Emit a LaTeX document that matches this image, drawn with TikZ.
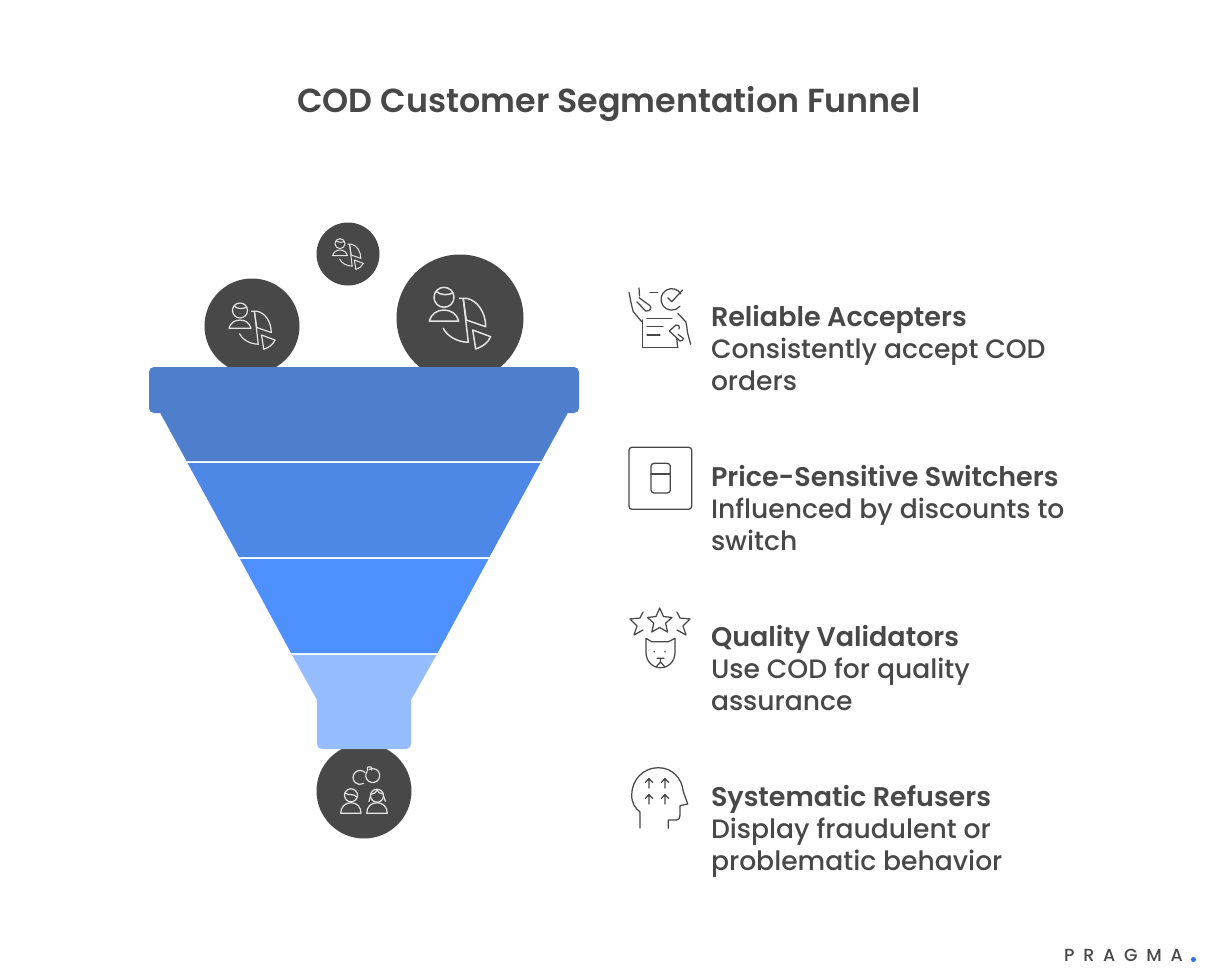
\documentclass[tikz,border=0pt]{standalone}
\usepackage{fontspec}
\setmainfont{Poppins Medium}[BoldFont={Poppins SemiBold}]
\newfontfamily\spaced[LetterSpace=50]{Poppins Medium}
\newcommand{\fpx}[1]{\fontsize{#1}{32}\selectfont}
\definecolor{ink}{HTML}{484848}
\definecolor{segA}{HTML}{4F7FCC}
\definecolor{segB}{HTML}{4D88E6}
\definecolor{segC}{HTML}{4D90FE}
\definecolor{segD}{HTML}{96BDFF}
\definecolor{dotblue}{HTML}{2F6FE0}
\definecolor{iconline}{HTML}{E4E4E4}
\tikzset{
  x=1pt,y=-1pt,
  ball/.style={fill=ink,draw=none},
  label text/.style={anchor=north west,inner sep=0pt,outer sep=0pt,align=left,text=ink,font=\fpx{26.6}},
  thin icon/.style={draw=ink,line width=1.25pt,line cap=round,line join=round,fill=none},
  persona/.pic={
    \begin{scope}[line cap=round,line join=round,fill=none]
    \draw (-16,-20.7) circle[radius=10];
    \draw (-24,-26.7) .. controls (-19,-22) and (-12,-23) .. (-7,-25);
    \draw (-30.7,3) -- (-1.3,3) .. controls (-3,-4) and (-9,-8) .. (-16,-8) .. controls (-23,-8) and (-29,-4) .. (-30.7,3) -- cycle;
    \draw (-0.7,-19.7) -- (6.3,-19.7) .. controls (17,-18) and (25.7,-6) .. (25.7,8.7) -- (6.3,2) -- (3.3,-19);
    \draw (3.3,-19) -- (8.3,24.3);
    \draw (-16.7,10.3) .. controls (-13,18) and (-3,24) .. (8.3,24.3);
    \draw (12.7,12) -- (30.7,18.7) .. controls (28,25) and (22,29) .. (15.7,31) -- cycle;
    \end{scope}
  }
}
\begin{document}
\begin{tikzpicture}
\useasboundingbox (0,0) rectangle (1219,979);
\fill[white] (0,0) rectangle (1219,979);

\node[anchor=base,inner sep=0pt,text=ink,font=\fpx{33.3}\bfseries] (title) at (609,113) {COD Customer Segmentation Funnel};

% balls above the funnel
\begin{scope}
\clip (100,200) rectangle (600,367);
\fill[ball] (348,254) circle[radius=31.5];
\fill[ball] (252,326) circle[radius=47.5];
\fill[ball] (460,318) circle[radius=63.5];
\end{scope}
\pic[draw=iconline,line width=1pt,scale=.5] at (348,254) {persona};
\pic[draw=iconline,line width=1.2pt,scale=.75] at (252,326) {persona};
\pic[draw=iconline,line width=1.5pt] at (460,318) {persona};

% ball below the funnel
\begin{scope}
\clip (300,749) rectangle (430,850);
\fill[ball] (364,791) circle[radius=47.5];
\end{scope}
\begin{scope}[draw=iconline,line width=1.2pt,line cap=round,line join=round]
\draw (365,772.5) arc[start angle=-45,end angle=-300,radius=7];
\draw (367,771.5) arc[start angle=215,end angle=-120,radius=7];
\draw[rounded corners=.6pt] (367.5,770.5) -- (367.5,767) -- (371.5,767) -- (371.5,770);
\draw (351,795.3) circle[radius=6.5];
\draw (345,793) .. controls (349,796) and (353,793) .. (357,797);
\draw (340.7,813.3) -- (361,813.3) .. controls (361,807) and (357,802.7) .. (351,802.7) .. controls (345,802.7) and (340.7,807) .. (340.7,813.3) -- cycle;
\draw (377,795.7) circle[radius=6.5];
\draw (371,794) .. controls (375,794) and (376,792) .. (377,790) .. controls (378,792) and (380,794) .. (383,794);
\draw (370.5,796) -- (369,801.5) (383.5,796) -- (385.5,801.5);
\draw (366.7,813.3) -- (387.3,813.3) .. controls (387.3,807) and (383,802.7) .. (377,802.7) .. controls (371,802.7) and (366.7,807) .. (366.7,813.3) -- cycle;
\end{scope}

% funnel
\fill[segA,rounded corners=5pt] (149,367) rectangle (579,413);
\fill[segA] (157.5,408) -- (570.5,408) -- (541.5,461) -- (186.5,461) -- cycle;
\fill[segB] (187.5,463) -- (540.5,463) -- (489.5,557) -- (239,557) -- cycle;
\fill[segC] (240,559) -- (488.5,559) -- (437.5,653) -- (291,653) -- cycle;
\fill[segD] (292,655) -- (436.5,655) -- (411,700) -- (411,744)
  arc[start angle=0,end angle=90,radius=5] -- (322,749) arc[start angle=90,end angle=180,radius=5] -- (317,700) -- cycle;

% labels
\node[label text] (t1) at (711,305.5) {{\bfseries\fpx{27}Reliable Accepters}\\Consistently accept COD\\orders};
\node[label text] (t2) at (711,465.5) {{\bfseries\fpx{27}Price-Sensitive Switchers}\\Influenced by discounts to\\switch};
\node[label text] (t3) at (711,625.5) {{\bfseries\fpx{27}Quality Validators}\\Use COD for quality\\assurance};
\node[label text] (t4) at (711,785.5) {{\bfseries\fpx{27}Systematic Refusers}\\Display fraudulent or\\problematic behavior};

% icon: hands with document
\draw[thin icon] (642.7,320) -- (642.7,347.7) -- (677.7,347.7);
\draw[thin icon] (647,318.3) -- (672,318.3) (647,326.7) -- (663,326.7) (647,335) -- (660,335);
\draw[thin icon] (650,292.3) -- (657.7,292.3);
\draw[thin icon] (639,288) -- (639.5,296);
\draw[thin icon] (629,292.3) .. controls (630,297) and (631,304) .. (633.3,311.7) -- (641.7,321.7);
\draw[thin icon] (639,297.7) -- (650,305.7) .. controls (652,308) and (650,311.5) .. (645.7,311) -- (636.7,301.7);
\draw[thin icon] (681,294) arc[start angle=-30,end angle=-320,radius=10.7];
\draw[thin icon] (667.7,297.7) -- (671.7,301.7) -- (682.7,290);
\draw[thin icon] (677.7,313.3) -- (685.7,321.7) .. controls (687,326) and (687,330) .. (687.7,333.3) -- (690.7,344.3);
\draw[thin icon] (676,325) -- (669.3,331) -- (680,341) .. controls (682,341) and (684,340) .. (683.3,338.3) -- (678,334.3);
\draw[thin icon] (676,325) .. controls (678,324) and (680,326) .. (679,329);
\draw[thin icon] (676.7,338.3) -- (677.7,347.7);

% icon: switch
\draw[thin icon,rounded corners=3pt] (629,447.3) rectangle (691.7,509.3);
\draw[thin icon,rounded corners=3pt] (651,463.3) rectangle (670.3,493);
\draw[thin icon] (651,474) -- (670.3,474);

% icon: stars and cat
\draw[thin icon] (659.7,608) -- (663.4,616.5) -- (672,617.5) -- (665.6,623.2) -- (667.6,632) -- (659.7,627.5) -- (651.8,632) -- (653.8,623.2) -- (647.4,617.5) -- (656,616.5) -- cycle;
\draw[thin icon] (643,612) -- (640,618) -- (630,619) -- (637,626) -- (634,635) -- (643,630);
\draw[thin icon] (677,612) -- (680,618) -- (690,619) -- (683,626) -- (686,635) -- (677,630);
\draw[thin icon] (646,638.3) -- (651.7,641.7) -- (668.3,641.7) -- (675,638.3) -- (675,652) .. controls (675,662) and (668,667.7) .. (660.5,667.7) .. controls (653,667.7) and (646,662) .. (646,652) -- cycle;
\fill[ink] (654.3,651.7) circle[radius=.9] (665,651.7) circle[radius=.9];
\draw[thin icon] (657,658.3) -- (664,658.3) (660.5,658.3) -- (660.5,662) (660.5,662) -- (656,667) (660.5,662) -- (665,667);

% icon: head with arrows
\draw[thin icon] (640,828) -- (640,812) .. controls (635,808) and (631.7,803) .. (631.7,795) .. controls (631.7,780) and (643,767.7) .. (658.3,767.7) .. controls (672,767.7) and (682,778) .. (683.3,791.7) -- (687.7,804) -- (680,805.7) -- (680,815) .. controls (680,818) and (679,820) .. (676.7,820) -- (668.3,820) -- (668.3,828.3);
\foreach \ax/\ay in {649/788,665/788,649/804,665/804}{
  \draw[thin icon] (\ax,\ay) -- (\ax,\ay-9.5) (\ax-3.7,\ay-5.5) -- (\ax,\ay-9.5) -- (\ax+3.7,\ay-5.5);
}

% brand
\node[anchor=base west,inner sep=0pt,text=ink,font=\fpx{17.5}\spaced] (brand) at (1064,961) {PRAGMA};
\fill[dotblue] (1193.5,959.5) circle[radius=2.5];
\end{tikzpicture}
\end{document}
